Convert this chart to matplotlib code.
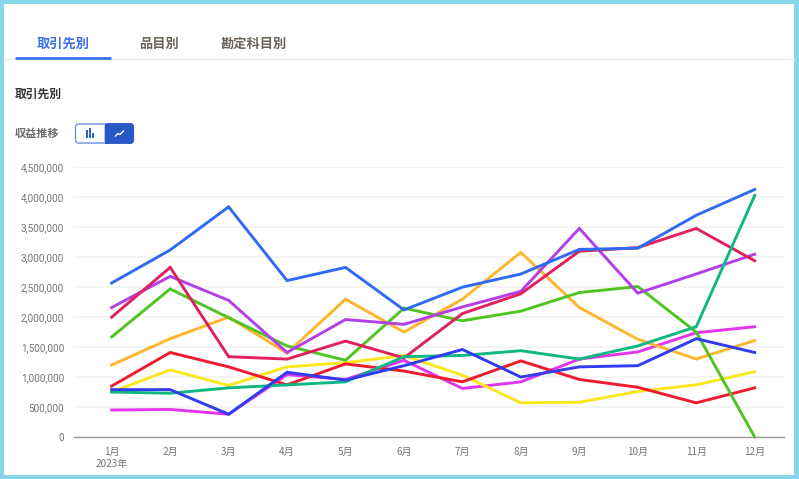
import matplotlib
matplotlib.use('Agg')
import matplotlib.pyplot as plt
from matplotlib.patches import Rectangle, FancyBboxPatch

plt.rcParams['font.family'] = ['Noto Sans CJK JP', 'DejaVu Sans']

months = ['1月\n2023年', '2月', '3月', '4月', '5月', '6月', '7月', '8月', '9月', '10月', '11月', '12月']
y_ticks = [0, 500000, 1000000, 1500000, 2000000, 2500000, 3000000, 3500000, 4000000, 4500000]

tabs = ['取引先別', '品目別', '勘定科目別']

magenta = [450000, 460000, 380000, 1040000, 960000, 1280000, 810000, 920000, 1300000, 1420000, 1740000, 1840000]
yellow = [750000, 1120000, 860000, 1170000, 1240000, 1360000, 1030000, 570000, 580000, 760000, 870000, 1090000]
red = [850000, 1410000, 1170000, 870000, 1220000, 1100000, 920000, 1270000, 960000, 830000, 570000, 820000]
orange = [1200000, 1640000, 2000000, 1400000, 2300000, 1750000, 2300000, 3080000, 2160000, 1630000, 1300000, 1610000]
green = [1670000, 2470000, 1990000, 1520000, 1280000, 2150000, 1940000, 2100000, 2410000, 2510000, 1750000, 0]
purple = [2160000, 2680000, 2280000, 1410000, 1960000, 1880000, 2170000, 2430000, 3480000, 2400000, 2720000, 3050000]
crimson = [2000000, 2830000, 1340000, 1300000, 1600000, 1320000, 2060000, 2390000, 3100000, 3160000, 3480000, 2940000]
teal = [750000, 730000, 820000, 870000, 920000, 1340000, 1360000, 1440000, 1300000, 1520000, 1840000, 4030000]
indigo = [790000, 790000, 380000, 1080000, 950000, 1190000, 1460000, 1000000, 1170000, 1190000, 1640000, 1410000]
blue = [2570000, 3120000, 3840000, 2610000, 2830000, 2120000, 2500000, 2720000, 3130000, 3150000, 3700000, 4130000]

series = [
    (magenta, '#e335ec'),
    (yellow, '#fbe71c'),
    (red, '#ee1c2e'),
    (orange, '#ffb62e'),
    (green, '#4fc423'),
    (purple, '#b23fe8'),
    (crimson, '#e0225c'),
    (teal, '#0fb883'),
    (indigo, '#303cf0'),
    (blue, '#2f6bf2'),
]

W, H = 799, 479
fig = plt.figure(figsize=(W / 100, H / 100), dpi=100)

# page chrome, in pixel coordinates
bg = fig.add_axes([0, 0, 1, 1])
bg.set_xlim(0, W)
bg.set_ylim(H, 0)
bg.axis('off')

border = '#86d6e9'
bg.add_patch(Rectangle((0, 0), W, 4, color=border, lw=0))
bg.add_patch(Rectangle((0, 0), 4, H, color=border, lw=0))
bg.add_patch(Rectangle((794, 0), 5, H, color=border, lw=0))
bg.add_patch(Rectangle((0, 475), W, 4, color=border, lw=0))

bg.plot([4, 794], [58.5, 58.5], color='#eeeeee', lw=1)
bg.plot([15, 111], [57.5, 57.5], color='#3b6fe8', lw=2, solid_capstyle='butt')
bg.text(63, 44, tabs[0], color='#3b6fe8', fontsize=9.5, fontweight='bold', ha='center', va='center')
bg.text(159, 44, tabs[1], color='#6b6258', fontsize=9.5, fontweight='bold', ha='center', va='center')
bg.text(254, 44, tabs[2], color='#6b6258', fontsize=9.5, fontweight='bold', ha='center', va='center')
bg.text(15, 94, '取引先別', color='#333333', fontsize=8.5, fontweight='bold', ha='left', va='center')
bg.text(15, 133, '収益推移', color='#6e6e6e', fontsize=8, fontweight='bold', ha='left', va='center')

# toggle button
bg.add_patch(FancyBboxPatch((75.5, 124), 58, 19, boxstyle='round,pad=0,rounding_size=3',
                            fc='white', ec='#6f8fd8', lw=1))
bg.add_patch(FancyBboxPatch((105, 123.5), 28.5, 20, boxstyle='round,pad=0,rounding_size=3',
                            fc='#2858c8', ec='#2858c8', lw=0.5))
bg.add_patch(Rectangle((105, 123.5), 5, 20, color='#2858c8', lw=0))
for bx, bh in [(87, 8), (90, 10), (93, 5)]:
    bg.add_patch(Rectangle((bx - 0.9, 137.5 - bh), 1.8, bh, color='#2f62cc', lw=0))
bg.plot([115.5, 118, 120, 123.5], [136, 133.5, 134.5, 131], color='white', lw=1)

# chart
left, right, top, bottom = 74, 784, 167.3, 437
ax = fig.add_axes([left / W, 1 - bottom / H, (right - left) / W, (bottom - top) / H])
ax.patch.set_alpha(0)
x = list(range(len(months)))
for values, color in series:
    ax.plot(x, values, color=color, lw=2.1, solid_joinstyle='miter', clip_on=False)

step = 58.45
ax.set_xlim(-(111.7 - left) / step, 11 + (right - 754.7) / step)
ax.set_ylim(0, 4500000)
ax.set_yticks(y_ticks)
ax.set_yticklabels([f'{v:,}' for v in y_ticks], fontsize=7.2, color='#757575', family=['Roboto', 'DejaVu Sans'])
ax.set_xticks(x)
ax.set_xticklabels(months, fontsize=7.2, color='#757575', linespacing=1.25)
ax.tick_params(axis='both', length=0)
ax.tick_params(axis='y', pad=7)
ax.tick_params(axis='x', pad=7)
ax.grid(axis='y', color='#f2f2f2', lw=1.2)
ax.set_axisbelow(True)
for s in ['top', 'left', 'right']:
    ax.spines[s].set_visible(False)
ax.spines['bottom'].set_color('#999999')
ax.spines['bottom'].set_linewidth(1)

fig.savefig('out.png', dpi=100)
